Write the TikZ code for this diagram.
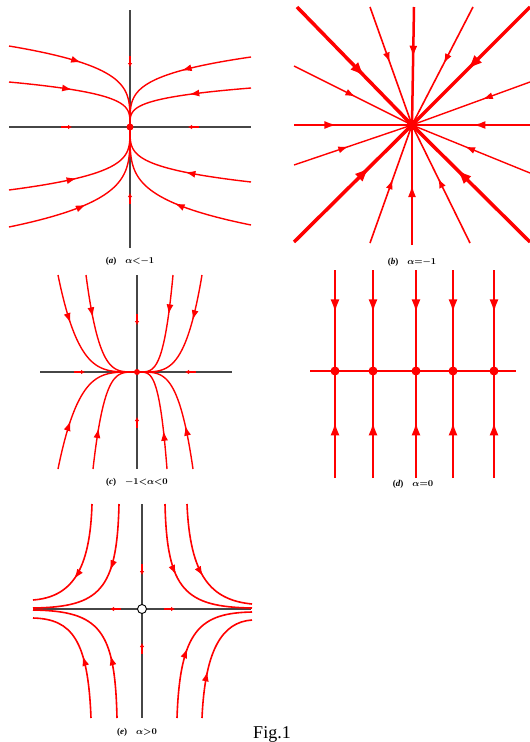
\documentclass[tikz,border=0pt]{standalone}
\usepackage{amsmath}
\usepackage{fontspec}
\setmainfont{Liberation Serif}
\usepackage{xcolor}
\usetikzlibrary{arrows.meta,decorations.markings}
\definecolor{traj}{RGB}{255,0,0}
\definecolor{axisgray}{RGB}{70,70,70}

\begin{document}
\begin{tikzpicture}[
    x=1pt, y=-1pt,
    >={Latex[length=10pt, width=7pt]},
    axis/.style={draw=axisgray, line width=1.1pt},
    flow/.style={draw=traj, line width=1.4pt, decoration={markings, mark=at position #1 with {\arrow{>}}}, postaction={decorate}},
    flow/.default=0.4,
    axtick/.style={draw=traj, line width=1.4pt, -{Latex[length=4pt, width=4.5pt]}},
    fixed/.style={circle, fill=traj, inner sep=0pt, minimum size=#1},
    caption/.style={font=\fontsize{9}{10}\selectfont\bfseries, inner sep=0pt}
]
\useasboundingbox (0,0) rectangle (530,742);

% Panel (a)
\coordinate (oa) at (130,127);
\draw[axis] (9,127) -- (251,127);
\draw[axis] (130,10) -- (130,248);
\foreach \X/\Y in {-121/-81, -121/-45, 121/-70, 121/-39, -121/63, -121/100, 121/55, 121/98}
  \draw[flow=0.45] plot[domain=0:1, samples=60, variable=\s] ({130+(\X)*(1-\s)^4}, {127+(\Y)*(1-\s)});
\draw[axtick] (130,56) -- (130,67);
\draw[axtick] (130,204) -- (130,193);
\draw[axtick] (61,127) -- (72,127);
\draw[axtick] (199,127) -- (188,127);
\node[fixed=7pt] (pa) at (oa) {};
\node[caption] (capa) at (130,261) {(\textit{a})\quad{\boldmath$\alpha{<}{-}1$}};

% Panel (b)
\coordinate (ob) at (412,125);
\draw[axis, line width=0.8pt] (294,125) -- (530,125);
\foreach \px/\py/\w/\p/\tl/\tw in {414/7/2.5/0.43/12/8, 412/245/2/0.5/12/8, 297/7/3.5/0.59/15/11,
    370/7/1.6/0.47/10/7, 473/7/1.6/0.48/10/7, 530/7/3.5/0.53/15/11, 294/66/1.4/0.52/10/7,
    530/82/1.4/0.4/10/7, 294/125/2/0.36/12/8, 530/125/2/0.48/12/8, 294/165/1.4/0.46/10/7,
    530/173/1.4/0.55/10/7, 294/242/3.5/0.64/15/11, 370/243/1.6/0.54/10/7,
    470/243/1.6/0.55/10/7, 530/242/3.5/0.62/15/11}
  \draw[flow=\p, line width=\w pt, >={Latex[length=\tl pt, width=\tw pt]}] (\px,\py) -- (ob);
\node[fixed=11pt] (pb) at (ob) {};
\node[caption] (capb) at (412,262) {(\textit{b})\quad{\boldmath$\alpha{=}{-}1$}};

% Panel (c)
\coordinate (oc) at (137,372);
\draw[axis] (40,372) -- (232,372);
\draw[axis] (137,275) -- (137,469);
\foreach \X/\Y in {-79/-97, -51/-97, 36/-97, 65/-97, -79/97, -44/97, 30/97, 56/97}
  \draw[flow=0.35] plot[domain=0:1, samples=60, variable=\s] ({137+(\X)*(1-\s)}, {372+(\Y)*(1-\s)^4});
\draw[axtick] (137,314) -- (137,325);
\draw[axtick] (137,428) -- (137,417);
\draw[axtick] (74,372) -- (85,372);
\draw[axtick] (196,372) -- (185,372);
\node[fixed=6pt] (pc) at (oc) {};
\node[caption] (capc) at (137,482) {(\textit{c})\quad{\boldmath${-}1{<}\alpha{<}0$}};

% Panel (d)
\draw[draw=traj, line width=2.6pt] (310,371) -- (516,371);
\foreach \vx in {335,373,416,453,494} {
  \draw[flow=0.42, line width=2pt, >={Latex[length=13pt, width=9pt]}] (\vx,270) -- (\vx,371);
  \draw[flow=0.52, line width=2pt, >={Latex[length=13pt, width=9pt]}] (\vx,478) -- (\vx,371);
  \node[fixed=9pt] (pd\vx) at (\vx,371) {};
}
\node[caption] (capd) at (413,484) {(\textit{d})\quad{\boldmath$\alpha{=}0$}};

% Panel (e)
\coordinate (oe) at (142,609);
\draw[axis] (34,609) -- (251,609);
\draw[axis] (142,504) -- (142,718);
\draw[flow=0.62, line width=1.6pt] (92,504) .. controls (90,570) and (72,597) .. (33,600);
\draw[flow=0.42, line width=1.6pt] (119,504) .. controls (117,590) and (100,607) .. (33,608);
\draw[flow=0.45, line width=1.6pt] (165,504) .. controls (167,590) and (185,607) .. (252,608);
\draw[flow=0.56, line width=1.6pt] (187,504) .. controls (190,575) and (210,600) .. (252,604);
\draw[flow=0.48, line width=1.6pt] (91,718) .. controls (88,640) and (72,619) .. (33,618);
\draw[flow=0.39, line width=1.6pt] (117,718) .. controls (115,630) and (100,611) .. (33,610);
\draw[flow=0.47, line width=1.6pt] (177,718) .. controls (180,630) and (200,613) .. (252,612);
\draw[flow=0.39, line width=1.6pt] (202,718) .. controls (205,650) and (222,622) .. (252,620);
\draw[axtick] (142,564) -- (142,575);
\draw[axtick] (142,654) -- (142,643);
\draw[axtick] (121,609) -- (110,609);
\draw[axtick] (164,609) -- (175,609);
\node[circle, draw=black, fill=white, line width=0.9pt, inner sep=0pt, minimum size=9pt] (pe) at (oe) {};
\node[caption] (cape) at (137,732) {(\textit{e})\quad{\boldmath$\alpha{>}0$}};

% Figure title
\node[font=\fontsize{18}{20}\selectfont, anchor=base, inner sep=0pt] (fig) at (272,738) {Fig.1};
\end{tikzpicture}
\end{document}
